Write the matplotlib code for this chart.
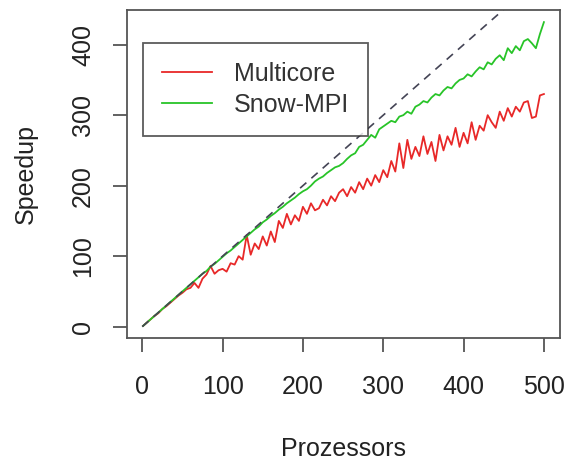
import numpy as np
import matplotlib
matplotlib.use("Agg")
import matplotlib.pyplot as plt

plt.rcParams['font.family'] = ['Liberation Sans', 'DejaVu Sans']

# processor counts (every 5)
procs = [1] + list(range(5, 501, 5))

multicore = [1, 5, 10, 15, 19, 25, 29, 34, 39, 44,
             48, 53, 55, 62, 55, 68, 74, 86, 75, 80,
             82, 78, 90, 88, 100, 95, 130, 102, 118, 110,
             128, 115, 135, 120, 150, 140, 160, 145, 158, 150,
             170, 160, 175, 165, 168, 180, 172, 185, 178, 190,
             195, 185, 198, 190, 205, 195, 210, 200, 215, 205,
             222, 212, 235, 220, 260, 225, 265, 238, 255, 242,
             270, 245, 262, 235, 272, 250, 270, 258, 282, 255,
             275, 260, 290, 265, 285, 278, 300, 290, 282, 305,
             292, 310, 298, 312, 305, 318, 320, 296, 298, 328,
             330]

snow_mpi = [1, 5, 10, 15, 20, 25, 30, 35, 40, 45,
            50, 55, 60, 65, 70, 75, 79, 85, 89, 94,
            99, 104, 108, 113, 118, 123, 128, 133, 138, 142,
            148, 152, 157, 161, 166, 170, 175, 179, 183, 188,
            192, 195, 200, 206, 210, 213, 218, 222, 226, 228,
            232, 238, 243, 246, 255, 258, 265, 272, 268, 280,
            284, 288, 292, 290, 298, 300, 305, 302, 312, 315,
            320, 318, 325, 330, 328, 335, 340, 338, 345, 350,
            352, 358, 355, 362, 368, 365, 375, 372, 380, 385,
            378, 395, 388, 398, 392, 405, 408, 402, 395, 415,
            432]

xticks = [0, 100, 200, 300, 400, 500]
yticks = [0, 100, 200, 300, 400]

fig = plt.figure(figsize=(5.72, 4.61), dpi=100)
ax = fig.add_axes([0.222, 0.267, 0.757, 0.711])

ax.plot(procs, multicore, color='#e82828', lw=1.3, label='Multicore')
ax.plot(procs, snow_mpi, color='#28c428', lw=1.3, label='Snow-MPI')
ideal = np.array([0, 520])
ax.plot(ideal, ideal, color='#444455', lw=1.2, ls=(0, (5, 4)))

ax.set_xlim(-19, 520)
ax.set_ylim(-16, 449)
ax.set_xticks(xticks)
ax.set_yticks(yticks)
ax.set_yticklabels([str(v) for v in yticks], rotation=90, va='center')

for s in ax.spines.values():
    s.set_color('#555555')
    s.set_linewidth(1.3)
ax.tick_params(direction='out', length=10, width=1.3, color='#555555',
               labelsize=18, labelcolor='#222222')
ax.tick_params(axis='x', pad=17)
ax.tick_params(axis='y', pad=13)

ax.set_xlabel('Prozessors', fontsize=18, color='#222222', labelpad=27)
ax.set_ylabel('Speedup', fontsize=18, color='#222222', labelpad=24)

leg = ax.legend(loc='upper left', bbox_to_anchor=(143 / 572, 1 - 43 / 461),
                bbox_transform=fig.transFigure, fontsize=18, frameon=True,
                fancybox=False, edgecolor='#333333', handlelength=2.0,
                handletextpad=0.9, borderpad=0.75, labelspacing=0.3,
                borderaxespad=0)
leg.get_frame().set_linewidth(1.3)
for t in leg.get_texts():
    t.set_color('#333333')

fig.savefig('out.png', dpi=100)
